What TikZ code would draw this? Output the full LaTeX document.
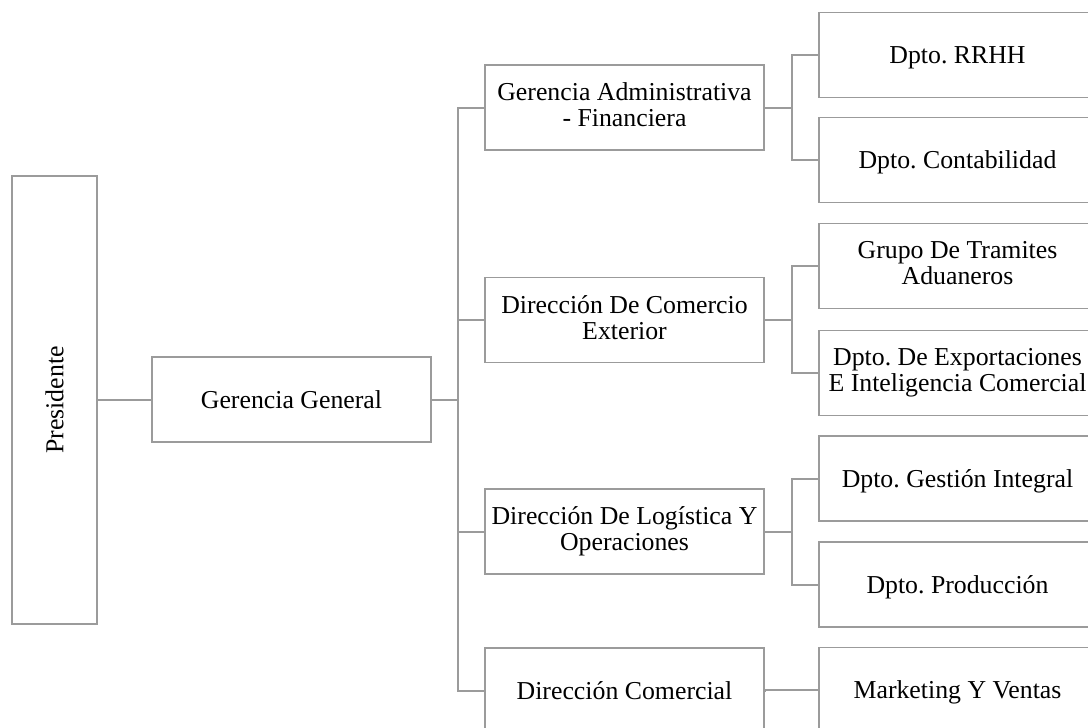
\documentclass[tikz,border=0pt]{standalone}
\usepackage{fontspec}
\setmainfont{Liberation Serif}
\usetikzlibrary{calc}
\definecolor{linegray}{RGB}{155,155,155}
% line box of the serif face: ascent and descent
\newcommand\linestrut{\rule[-0.216em]{0pt}{1.107em}}
\begin{document}
\frenchspacing
\begin{tikzpicture}[x=1pt,y=-1pt,
  unit/.style={draw=linegray,line width=1.8pt,rectangle,inner sep=0pt,
    align=center,font=\fontsize{25.8}{26}\selectfont,
    execute at begin node=\linestrut,execute at end node=\linestrut,
    minimum height=85pt},
  midbox/.style={unit,minimum width=279pt},
  leafbox/.style={unit,minimum width=277pt},
  orgline/.style={draw=linegray,line width=2pt,line cap=rect}]
\useasboundingbox (0,0) rectangle (1088,728);
\clip (0,0) rectangle (1088,728);

% top of the chart
\node[draw=linegray,line width=1.8pt,rectangle,inner sep=0pt,
      font=\fontsize{25.8}{26}\selectfont,
      minimum width=85pt,minimum height=448pt] (pres) at (54.5,400) {\rotatebox{90}{Presidente}};
\node[midbox] (gg) at (291.5,399.5) {Gerencia General};

% second level
\node[midbox] (ga)  at (624.5,107.5) {Gerencia Administrativa\\- Financiera};
\node[midbox] (dce) at (624.5,320)   {Dirección De Comercio\\Exterior};
\node[midbox] (dlo) at (624.5,531.5) {Dirección De Logística Y\\Operaciones};
\node[midbox] (dco) at (624.5,690.5) {Dirección Comercial};

% departments
\node[leafbox] (rrhh) at (957.5,55)    {Dpto. RRHH};
\node[leafbox] (cont) at (957.5,160)   {Dpto. Contabilidad};
\node[leafbox] (gta)  at (957.5,266)   {Grupo De Tramites\\Aduaneros};
\node[leafbox] (dex)  at (957.5,373)   {Dpto. De Exportaciones\\E Inteligencia Comercial};
\node[leafbox] (dgi)  at (957.5,478.5) {Dpto. Gestión Integral};
\node[leafbox] (dpr)  at (957.5,584.5) {Dpto. Producción};
\node[leafbox] (mkt)  at (957.5,690)   {Marketing Y Ventas};

% connectors
\draw[orgline] (gg.west -| pres.east) -- (gg.west);
\foreach \c in {ga,dce,dlo,dco}
  \draw[orgline] (gg.east) -- ++(26.5,0) |- (\c.west);
\foreach \p/\c in {ga/rrhh,ga/cont,dce/gta,dce/dex,dlo/dgi,dlo/dpr}
  \draw[orgline] (\p.east) -- ++(27.5,0) |- (\c.west);
\draw[orgline] (dco.east) -- (mkt.west -| dco.east) -- (mkt.west);
\end{tikzpicture}
\end{document}
